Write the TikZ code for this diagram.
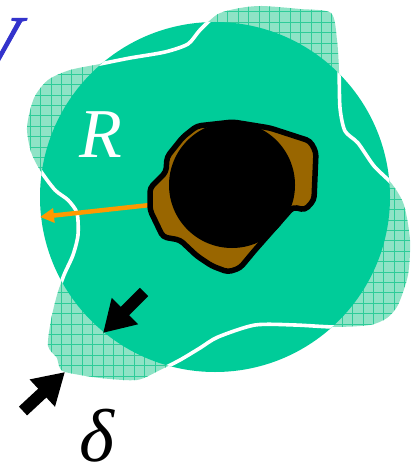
\documentclass[tikz,border=0pt]{standalone}
\usepackage{fontspec}
\setmainfont{Liberation Serif}
\newfontfamily\vfont{Liberation Serif}[FakeBold=1.2]
\usetikzlibrary{arrows.meta}
\definecolor{mint}{HTML}{00CC99}
\definecolor{hatchbg}{HTML}{8FE3C6}
\definecolor{hatchline}{HTML}{2ECC99}
\definecolor{vblue}{HTML}{3333CC}
\definecolor{brownish}{HTML}{996600}
\definecolor{arrorange}{HTML}{FF9900}
\newcommand\blobpath{plot[smooth cycle,tension=0.45] coordinates{
 (27,127) (34,98) (48,80) (70,70) (100,64) (130,58) (165,52) (188,44) (200,30) (218,14)
 (240,8) (262,6) (300,9) (331,13) (337,40) (339,70) (340,108) (345,131) (358,143) (374,166)
 (392,184) (404,205) (410,240) (408,275) (398,305) (387,318) (370,325) (335,327) (295,325)
 (255,325) (218,337) (200,348) (180,360) (160,370) (137,380) (100,378) (65,372) (59,366)
 (57,358) (48,346) (51,320) (57,295) (64,275) (73,255) (78,235) (77,213) (68,200) (55,190)
 (40,170) (31,152)}}
\tikzset{
  fatarrow/.style={line width=12pt,-{Triangle[length=31pt,width=35pt]}},
  lbl/.style={inner sep=0pt,font=\fontsize{70}{70}\selectfont\itshape}
}
\begin{document}
\begin{tikzpicture}[x=1pt,y=-1pt]
\useasboundingbox (0,0) rectangle (410,470);
% hatched blob
\fill[hatchbg] \blobpath;
\begin{scope}
  \clip \blobpath;
  \foreach \k in {0,...,40} {
    \draw[hatchline,line width=0.8pt] (\k*10.4-1,0) -- (\k*10.4-1,470);
    \draw[hatchline,line width=0.8pt] (0,\k*10.4+1.5) -- (410,\k*10.4+1.5);
  }
\end{scope}
% main disc
\coordinate (c) at (215,197);
\fill[mint] (c) circle[radius=175];
\begin{scope}
  \clip (c) circle[radius=175];
  \draw[white,line width=3.6pt,line join=round] \blobpath;
\end{scope}
% orange arrow
\coordinate (oa) at (150,205);
\coordinate (ob) at (40,217);
\draw[arrorange,line width=4.5pt,-{Triangle[length=14pt,width=14pt]}] (oa) -- (ob);
% brown object
\filldraw[fill=brownish,draw=black,line width=5.5pt,rounded corners=4pt,line join=round]
 (197,126) -- (233,122) -- (270,128) -- (310,141) -- (316,152) -- (314,200) -- (305,210)
 -- (293,207) -- (255,250) -- (240,268) -- (228,272) -- (212,266) -- (197,256) -- (180,240)
 -- (163,237) -- (150,210) -- (150,188) -- (166,172) -- (167,157) -- (183,137) -- cycle;
\fill[black] (232,185) circle[radius=63];
% fat arrows
\coordinate (a1s) at (144,292);
\coordinate (a1e) at (103,333);
\coordinate (a2s) at (23,411);
\coordinate (a2e) at (65,372);
\draw[fatarrow] (a1s) -- (a1e);
\draw[fatarrow] (a2s) -- (a2e);
% labels
\node[inner sep=0pt,font=\vfont\fontsize{76}{76}\selectfont\itshape,text=vblue,anchor=base east] (V) at (20,68) {V};
\node[lbl,text=white,anchor=base west] (R) at (79,158) {R};
\node[lbl,text=black,anchor=base west,font=\fontsize{75}{75}\selectfont\itshape] (d) at (79,461) {δ};
\end{tikzpicture}
\end{document}
